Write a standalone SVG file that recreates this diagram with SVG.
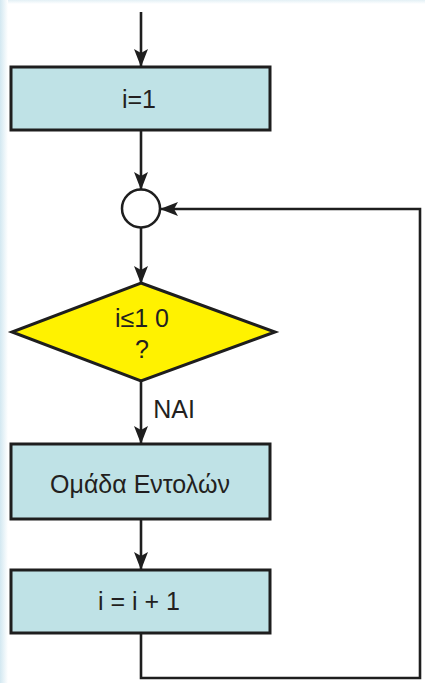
<svg xmlns="http://www.w3.org/2000/svg" width="425" height="683" viewBox="0 0 425 683">
<style>
.box{fill:#bfe2e6;stroke:#1e1e1e;stroke-width:3}
.dec{fill:#fff200;stroke:#1e1e1e;stroke-width:3}
.con{fill:#ffffff;stroke:#1e1e1e;stroke-width:2.5}
.ln{fill:none;stroke:#1e1e1e;stroke-width:2.6}
text{font-family:"Liberation Sans",Arial,sans-serif;font-size:25px;fill:#231f20;text-anchor:middle}
</style>
<defs>
<linearGradient id="lg" x1="0" y1="0" x2="1" y2="0">
<stop offset="0" stop-color="#d3e8f1"/>
<stop offset="1" stop-color="#ffffff"/>
</linearGradient>
<linearGradient id="tg" x1="0" y1="0" x2="0" y2="1">
<stop offset="0" stop-color="#e3f0f5"/>
<stop offset="1" stop-color="#ffffff"/>
</linearGradient>
<marker id="ah" viewBox="0 0 18 14" refX="17" refY="7" markerWidth="18" markerHeight="14" markerUnits="userSpaceOnUse" orient="auto">
<path d="M0,0 L18,7 L0,14 L4,7 z" fill="#1e1e1e"/>
</marker>
</defs>
<rect x="0" y="0" width="425" height="683" fill="#ffffff"/>
<rect x="0" y="0" width="425" height="4" fill="url(#tg)"/>
<rect x="0" y="0" width="8" height="683" fill="url(#lg)"/>
<g id="connectors">
<line class="ln" x1="141" y1="12" x2="141" y2="66" marker-end="url(#ah)"/>
<line class="ln" x1="141" y1="131" x2="141" y2="189" marker-end="url(#ah)"/>
<line class="ln" x1="141" y1="228" x2="141" y2="283" marker-end="url(#ah)"/>
<line class="ln" x1="141" y1="381" x2="141" y2="443" marker-end="url(#ah)"/>
<line class="ln" x1="141" y1="519" x2="141" y2="569" marker-end="url(#ah)"/>
<polyline class="ln" points="141,634 141,678 420,678 420,209 161,209" marker-end="url(#ah)"/>
<text x="174" y="418">NAI</text>
</g>
<g id="init">
<rect class="box" x="11" y="67" width="259" height="63"/>
<text x="139" y="108">i=1</text>
</g>
<g id="join">
<circle class="con" cx="141" cy="208.5" r="19"/>
</g>
<g id="condition">
<polygon class="dec" points="141,283 275,332 141,381 12,332"/>
<text x="142" y="327">i≤1 0</text>
<text x="142" y="358">?</text>
</g>
<g id="commands">
<rect class="box" x="11" y="444" width="259" height="75"/>
<text x="140" y="493">Ομάδα Εντολών</text>
</g>
<g id="increment">
<rect class="box" x="11" y="570" width="259" height="63"/>
<text x="139" y="610">i = i + 1</text>
</g>
</svg>
